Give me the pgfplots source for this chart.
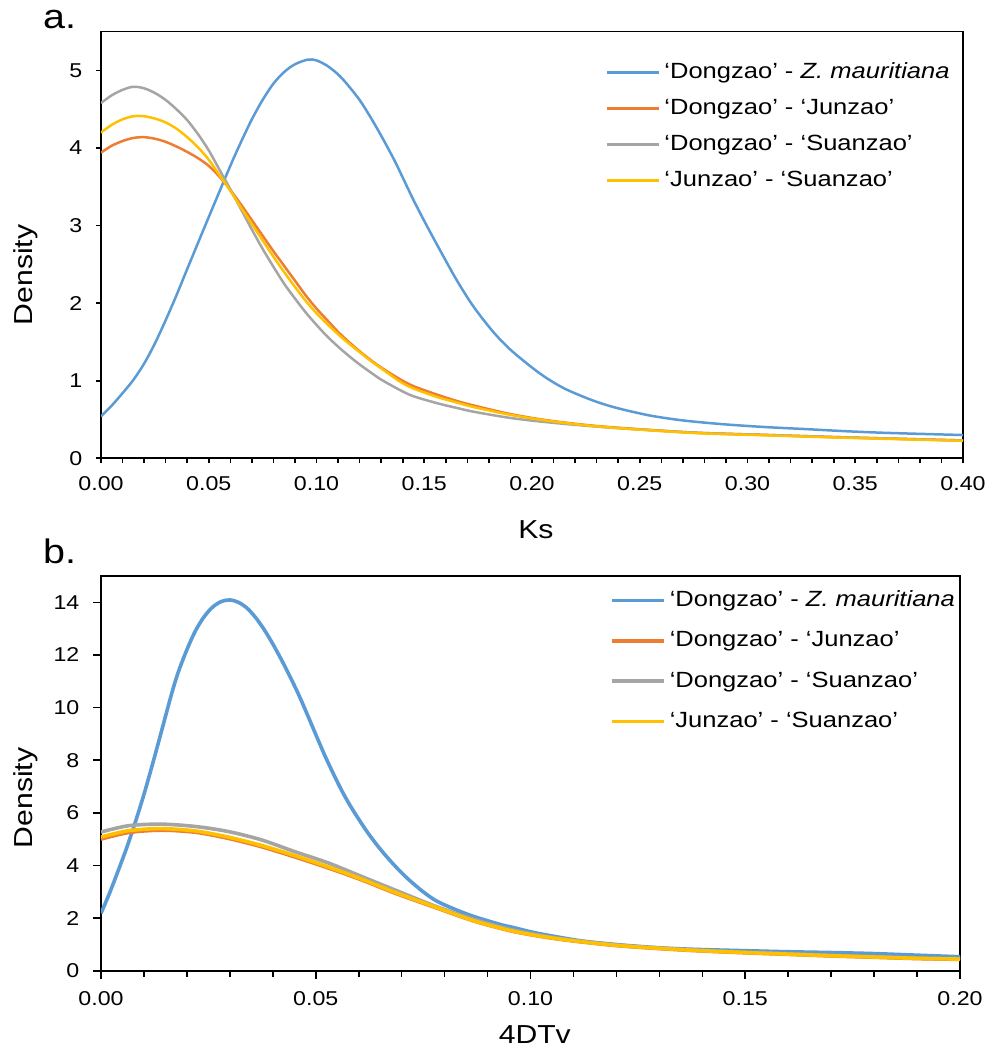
\documentclass[border=0pt]{standalone}
\usepackage{fontspec}
\setmainfont{Liberation Sans}[FakeStretch=1.16]
\usepackage{pgfplots}
\pgfplotsset{compat=1.18}

\definecolor{cblue}{HTML}{5B9BD5}
\definecolor{corange}{HTML}{ED7D31}
\definecolor{cgrey}{HTML}{A5A5A5}
\definecolor{cyellow}{HTML}{FFC000}

\pgfplotsset{
  densplot/.style={
    scale only axis,
    anchor=south west,
    xmin=0,
    tick align=outside,
    tick pos=left,
    axis line style={line width=0.8pt},
    every tick/.style={black, line width=0.8pt},
    minor x tick num=4,
    /pgf/number format/assume math mode=true,
    tick label style={font=\fontsize{10}{12}\selectfont},
    yticklabel shift=3.3pt,
    xticklabel style={/pgf/number format/fixed,
      /pgf/number format/fixed zerofill, /pgf/number format/precision=2},
    label style={font=\fontsize{13}{15}\selectfont},
    legend cell align=left,
    legend image code/.code={\draw[#1] (0pt,0pt) -- (26pt,0pt);},
    every axis plot/.append style={smooth},
  }
}

\begin{document}
\begin{tikzpicture}
\useasboundingbox (0,0) rectangle (496.5pt,527pt);

% ---- a. Ks ----
\begin{axis}[
  densplot,
  at={(50.5pt,297.85pt)},
  width=431pt, height=213.3pt,
  xmax=0.4, ymin=0, ymax=5.5,
  xtick={0,0.05,0.1,0.15,0.2,0.25,0.3,0.35,0.4},
  ytick={0,1,2,3,4,5},
  major tick length=2.5pt, minor tick length=2.5pt,
  xticklabel shift=3pt,
  xlabel={Ks},
  xlabel style={at={(axis description cs:0.5046,0)}, anchor=center, yshift=-35.85pt},
  ylabel={Density},
  ylabel style={at={(axis description cs:-0.087,0.43)}, anchor=center},
  legend style={draw=none, fill=none, at={(0.5858,0.93)}, anchor=north west,
    inner sep=0pt, outer sep=0pt, row sep=7pt, column sep=2pt,
    font=\fontsize{11}{13}\selectfont,
    nodes={inner sep=0pt, text height=8.5pt, text depth=2.5pt}},
  every axis plot/.append style={line width=1.25pt},
]
\addplot[cblue] coordinates {
  (0,0.54) (0.005,0.68) (0.01,0.84) (0.015,1.01) (0.02,1.22) (0.025,1.48)
  (0.03,1.78) (0.035,2.10) (0.04,2.44) (0.05,3.11) (0.06,3.77) (0.065,4.08)
  (0.07,4.37) (0.075,4.62) (0.08,4.83) (0.085,4.98) (0.09,5.08) (0.096,5.14)
  (0.1,5.13) (0.105,5.06) (0.11,4.95) (0.114,4.83) (0.12,4.62) (0.125,4.40)
  (0.13,4.16) (0.136,3.85) (0.14,3.62) (0.145,3.33) (0.15,3.06) (0.156,2.75)
  (0.165,2.30) (0.173,1.95) (0.182,1.63) (0.19,1.40) (0.2,1.17) (0.207,1.03)
  (0.215,0.90) (0.225,0.78) (0.233,0.70) (0.242,0.63) (0.255,0.55)
  (0.268,0.495) (0.28,0.46) (0.293,0.43) (0.31,0.40) (0.328,0.375)
  (0.345,0.35) (0.362,0.33) (0.38,0.315) (0.4,0.30)
};
\addlegendentry{‘Dongzao’ - \textit{Z. mauritiana}}
\addplot[corange] coordinates {
  (0,3.94) (0.005,4.03) (0.01,4.09) (0.015,4.13) (0.02,4.14) (0.025,4.12)
  (0.03,4.08) (0.035,4.02) (0.04,3.95) (0.045,3.87) (0.05,3.77) (0.055,3.63)
  (0.06,3.46) (0.065,3.27) (0.07,3.07) (0.075,2.87) (0.08,2.67) (0.085,2.48)
  (0.09,2.29) (0.095,2.10) (0.1,1.93) (0.105,1.78) (0.11,1.63) (0.115,1.50)
  (0.12,1.38) (0.125,1.27) (0.13,1.17) (0.1387,1.02) (0.145,0.93)
  (0.156,0.82) (0.165,0.74) (0.173,0.68) (0.19,0.57) (0.207,0.49)
  (0.225,0.43) (0.242,0.39) (0.276,0.33) (0.31,0.30) (0.345,0.27) (0.4,0.23)
};
\addlegendentry{‘Dongzao’ - ‘Junzao’}
\addplot[cgrey] coordinates {
  (0,4.58) (0.005,4.68) (0.01,4.75) (0.015,4.79) (0.02,4.77) (0.025,4.71)
  (0.03,4.62) (0.035,4.50) (0.04,4.36) (0.045,4.18) (0.05,3.97) (0.055,3.72)
  (0.06,3.47) (0.065,3.21) (0.07,2.95) (0.075,2.70) (0.08,2.47) (0.085,2.25)
  (0.09,2.06) (0.095,1.88) (0.1,1.72) (0.105,1.57) (0.11,1.44) (0.115,1.32)
  (0.12,1.21) (0.125,1.11) (0.13,1.015) (0.1387,0.88) (0.145,0.80)
  (0.156,0.71) (0.165,0.65) (0.173,0.60) (0.19,0.52) (0.207,0.465)
  (0.225,0.42) (0.242,0.385) (0.276,0.33) (0.31,0.30) (0.345,0.27) (0.4,0.23)
};
\addlegendentry{‘Dongzao’ - ‘Suanzao’}
\addplot[cyellow] coordinates {
  (0,4.20) (0.005,4.30) (0.01,4.37) (0.015,4.41) (0.02,4.41) (0.025,4.38)
  (0.03,4.33) (0.035,4.25) (0.04,4.14) (0.045,4.01) (0.05,3.85) (0.055,3.65)
  (0.06,3.45) (0.065,3.23) (0.07,3.02) (0.075,2.81) (0.08,2.60) (0.085,2.40)
  (0.09,2.21) (0.095,2.03) (0.1,1.87) (0.105,1.73) (0.11,1.60) (0.115,1.48)
  (0.12,1.37) (0.125,1.26) (0.13,1.16) (0.1387,0.99) (0.145,0.90)
  (0.156,0.79) (0.165,0.72) (0.173,0.66) (0.19,0.56) (0.207,0.485)
  (0.225,0.425) (0.242,0.385) (0.276,0.325) (0.31,0.295) (0.345,0.265)
  (0.4,0.225)
};
\addlegendentry{‘Junzao’ - ‘Suanzao’}
\end{axis}

% ---- b. 4DTv ----
\begin{axis}[
  densplot,
  at={(50.5pt,41.65pt)},
  width=429.5pt, height=197.35pt,
  xmax=0.2, ymin=0, ymax=15,
  xtick={0,0.05,0.1,0.15,0.2},
  ytick={0,2,4,6,8,10,12,14},
  major tick length=4pt, minor tick length=3pt,
  xticklabel shift=3pt,
  xlabel={4DTv},
  xlabel style={at={(axis description cs:0.505,0)}, anchor=center, yshift=-32pt},
  ylabel={Density},
  ylabel style={at={(axis description cs:-0.0873,0.4375)}, anchor=center},
  legend style={draw=none, fill=none, at={(0.5925,0.9663)}, anchor=north west,
    inner sep=0pt, outer sep=0pt, row sep=9.2pt, column sep=2.1pt,
    font=\fontsize{11}{13}\selectfont,
    nodes={inner sep=0pt, text height=8.5pt, text depth=2.5pt}},
  every axis plot/.append style={line width=1.8pt},
]
\addplot[cblue] coordinates {
  (0,2.18) (0.002,2.95) (0.004,3.80) (0.006,4.68) (0.008,5.65) (0.010,6.70)
  (0.012,7.85) (0.014,9.05) (0.0164,10.50) (0.018,11.35) (0.020,12.20)
  (0.022,12.92) (0.024,13.45) (0.026,13.82) (0.028,14.03) (0.030,14.09)
  (0.032,14.00) (0.034,13.78) (0.036,13.42) (0.038,12.96) (0.040,12.42)
  (0.042,11.82) (0.044,11.18) (0.046,10.50) (0.048,9.75) (0.050,8.98)
  (0.052,8.22) (0.054,7.52) (0.056,6.86) (0.058,6.28) (0.060,5.76)
  (0.062,5.27) (0.064,4.83) (0.066,4.43) (0.068,4.06) (0.070,3.72)
  (0.072,3.41) (0.075,3.00) (0.078,2.66) (0.082,2.36) (0.0868,2.06)
  (0.0929,1.76) (0.0955,1.66) (0.1,1.48) (0.104,1.35) (0.112,1.13)
  (0.121,0.98) (0.13,0.87) (0.1385,0.81) (0.15,0.76) (0.16,0.72)
  (0.17,0.69) (0.18,0.65) (0.19,0.59) (0.2,0.53)
};
\addlegendentry{‘Dongzao’ - \textit{Z. mauritiana}}
\addplot[corange] coordinates {
  (0,5.0) (0.0064,5.25) (0.014,5.34) (0.022,5.26) (0.0296,5.03) (0.0374,4.71)
  (0.045,4.33) (0.053,3.90) (0.0607,3.45) (0.0684,2.95) (0.0782,2.38)
  (0.0868,1.89) (0.0955,1.51) (0.104,1.26) (0.112,1.09) (0.121,0.94)
  (0.13,0.84) (0.1385,0.76) (0.15,0.68) (0.16,0.62) (0.17,0.56)
  (0.18,0.51) (0.19,0.46) (0.2,0.43)
};
\addlegendentry{‘Dongzao’ - ‘Junzao’}
\addplot[cgrey] coordinates {
  (0,5.27) (0.0064,5.51) (0.014,5.57) (0.022,5.48) (0.0296,5.29) (0.0374,4.97)
  (0.045,4.53) (0.053,4.09) (0.0607,3.58) (0.0684,3.07) (0.0777,2.46)
  (0.0868,1.95) (0.0955,1.56) (0.104,1.29) (0.112,1.11) (0.121,0.96)
  (0.13,0.86) (0.1385,0.78) (0.15,0.70) (0.16,0.64) (0.17,0.58)
  (0.18,0.53) (0.19,0.48) (0.2,0.45)
};
\addlegendentry{‘Dongzao’ - ‘Suanzao’}
\addplot[cyellow] coordinates {
  (0,5.08) (0.0064,5.32) (0.014,5.40) (0.022,5.31) (0.0296,5.08) (0.0374,4.76)
  (0.045,4.38) (0.053,3.94) (0.0607,3.48) (0.0684,2.98) (0.0782,2.40)
  (0.0868,1.90) (0.0955,1.52) (0.104,1.27) (0.112,1.10) (0.121,0.95)
  (0.13,0.85) (0.1385,0.77) (0.15,0.69) (0.16,0.63) (0.17,0.57)
  (0.18,0.52) (0.19,0.47) (0.2,0.44)
};
\addlegendentry{‘Junzao’ - ‘Suanzao’}
\end{axis}

\node[anchor=base west, font=\fontsize{17}{19}\selectfont, inner sep=0pt] at (21.35pt,512.85pt) {a.};
\node[anchor=base west, font=\fontsize{17}{19}\selectfont, inner sep=0pt] at (21.35pt,245pt) {b.};
\end{tikzpicture}
\end{document}
